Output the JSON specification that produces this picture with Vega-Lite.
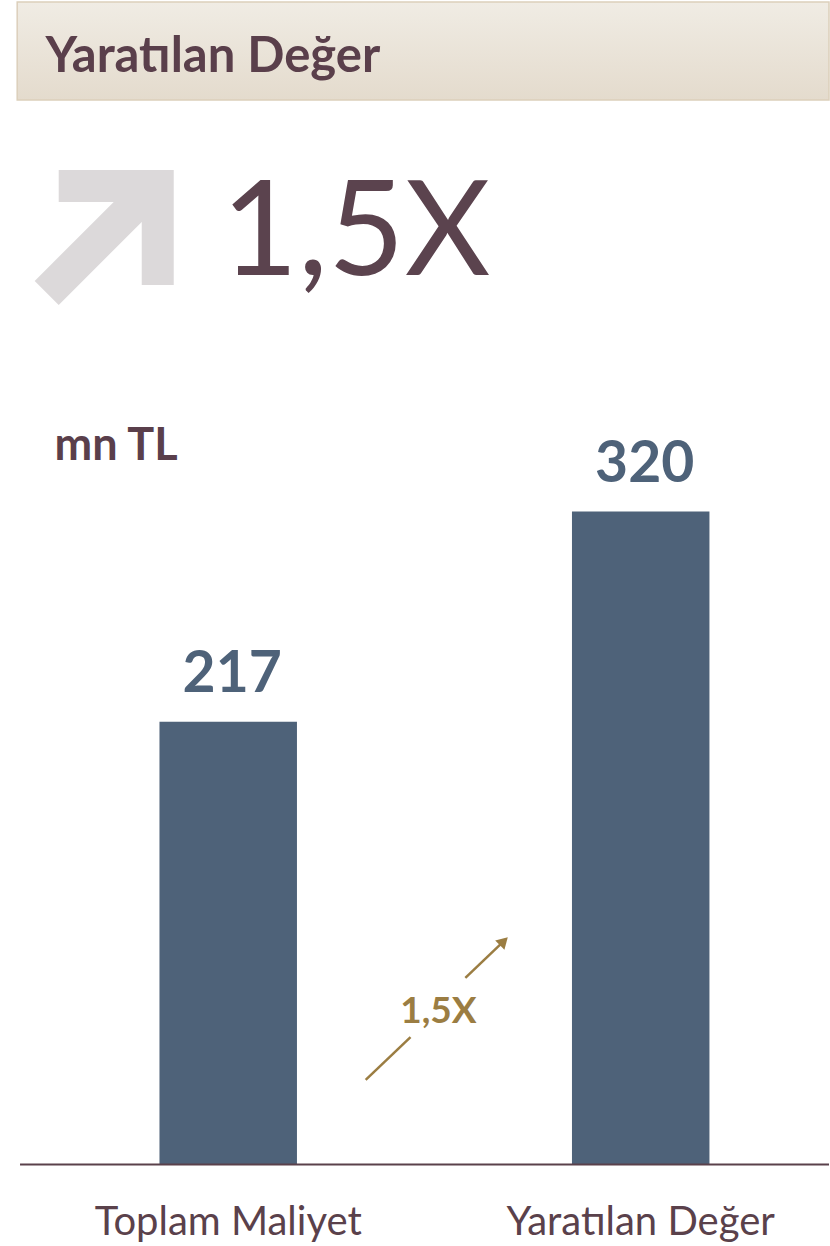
{
  "$schema": "https://vega.github.io/schema/vega-lite/v6.json",
  "width": 830,
  "height": 1246,
  "autosize": {"type": "fit", "contains": "padding"},
  "padding": {"left": 16, "top": 0, "right": 0, "bottom": 0},
  "background": "white",
  "config": {"view": {"stroke": null}, "font": "Lato"},
  "datasets": {
    "bars": [
      {"kalem": "Toplam Maliyet", "deger": 217},
      {"kalem": "Yaratılan Değer", "deger": 320}
    ]
  },
  "resolve": {"scale": {"x": "independent"}},
  "layer": [
    {
      "data": {"values": [{}]},
      "mark": {
        "type": "rect",
        "fill": {"gradient": "linear", "x1": 0, "y1": 0, "x2": 0, "y2": 1, "stops": [{"offset": 0, "color": "#f0ece4"}, {"offset": 1, "color": "#e4dbcd"}]},
        "stroke": "#dbcfbb",
        "strokeWidth": 1.5
      },
      "encoding": {
        "x": {"datum": -0.1, "type": "quantitative", "scale": {"domain": [0, 100], "nice": false, "zero": false}, "axis": null},
        "x2": {"datum": 100},
        "y": {"datum": 569.8, "type": "quantitative", "scale": {"domain": [-40, 570.8], "nice": false, "zero": false}, "axis": null},
        "y2": {"datum": 521.8}
      }
    },
    {
      "data": {"values": [{}]},
      "mark": {"type": "text", "text": "Yaratılan Değer", "fontWeight": "bold", "fontSize": 49, "color": "#5a3f4b", "align": "left", "baseline": "alphabetic"},
      "encoding": {
        "x": {"datum": 3.4, "type": "quantitative", "scale": {"domain": [0, 100], "nice": false, "zero": false}, "axis": null},
        "y": {"datum": 535.5, "type": "quantitative", "scale": {"domain": [-40, 570.8], "nice": false, "zero": false}, "axis": null}
      }
    },
    {
      "data": {"values": [{}]},
      "mark": {"type": "point", "shape": "M -0.65 -0.964 L 0.993 -0.964 L 0.993 0.679 L 0.536 0.679 L 0.536 -0.221 L -0.65 0.964 L -0.993 0.621 L 0.136 -0.507 L -0.65 -0.507 Z", "size": 19600, "filled": true, "color": "#dcd9da", "opacity": 1, "strokeWidth": 0},
      "encoding": {
        "x": {"datum": 10.63, "type": "quantitative", "scale": {"domain": [0, 100], "nice": false, "zero": false}, "axis": null},
        "y": {"datum": 454.4, "type": "quantitative", "scale": {"domain": [-40, 570.8], "nice": false, "zero": false}, "axis": null}
      }
    },
    {
      "data": {"values": [{}]},
      "mark": {"type": "text", "text": "1,5X", "fontSize": 132, "color": "#5b434e", "align": "left", "baseline": "alphabetic"},
      "encoding": {
        "x": {"datum": 25.1, "type": "quantitative", "scale": {"domain": [0, 100], "nice": false, "zero": false}, "axis": null},
        "y": {"datum": 436.0, "type": "quantitative", "scale": {"domain": [-40, 570.8], "nice": false, "zero": false}, "axis": null}
      }
    },
    {
      "data": {"values": [{}]},
      "mark": {"type": "text", "text": "mn TL", "fontWeight": "bold", "fontSize": 45, "color": "#5a3f4b", "align": "left", "baseline": "alphabetic"},
      "encoding": {
        "x": {"datum": 4.5, "type": "quantitative", "scale": {"domain": [0, 100], "nice": false, "zero": false}, "axis": null},
        "y": {"datum": 345.3, "type": "quantitative", "scale": {"domain": [-40, 570.8], "nice": false, "zero": false}, "axis": null}
      }
    },
    {
      "data": {"name": "bars"},
      "layer": [
        {
          "mark": {"type": "bar", "color": "#4e6279"},
          "encoding": {
            "x": {"field": "kalem", "type": "nominal", "sort": null, "scale": {"paddingInner": 0.6667, "paddingOuter": 0.3164, "align": 0.542}, "axis": null},
            "y": {"field": "deger", "type": "quantitative", "scale": {"domain": [-40, 570.8], "nice": false, "zero": false}, "axis": null},
            "y2": {"datum": 0}
          }
        },
        {
          "mark": {"type": "text", "fontWeight": "bold", "fontSize": 57, "color": "#4e6279", "baseline": "alphabetic", "dy": -30, "dx": 4},
          "encoding": {
            "x": {"field": "kalem", "type": "nominal", "sort": null, "scale": {"paddingInner": 0.6667, "paddingOuter": 0.3164, "align": 0.542}, "axis": null},
            "y": {"field": "deger", "type": "quantitative", "scale": {"domain": [-40, 570.8], "nice": false, "zero": false}, "axis": null},
            "text": {"field": "deger", "type": "quantitative"}
          }
        },
        {
          "mark": {"type": "text", "fontSize": 40, "color": "#5a414b", "baseline": "alphabetic"},
          "encoding": {
            "x": {"field": "kalem", "type": "nominal", "sort": null, "scale": {"paddingInner": 0.6667, "paddingOuter": 0.3164, "align": 0.542}, "axis": null},
            "y": {"datum": -34.6, "type": "quantitative", "scale": {"domain": [-40, 570.8], "nice": false, "zero": false}, "axis": null},
            "text": {"field": "kalem", "type": "nominal"}
          }
        }
      ]
    },
    {
      "data": {"values": [{}]},
      "mark": {"type": "rule", "color": "#5a414b", "strokeWidth": 2},
      "encoding": {
        "x": {"datum": 0.25, "type": "quantitative", "scale": {"domain": [0, 100], "nice": false, "zero": false}, "axis": null},
        "x2": {"datum": 100},
        "y": {"datum": 0, "type": "quantitative", "scale": {"domain": [-40, 570.8], "nice": false, "zero": false}, "axis": null}
      }
    },
    {
      "data": {"values": [{}]},
      "mark": {"type": "rule", "color": "#9b7d42", "strokeWidth": 2.5},
      "encoding": {
        "x": {"datum": 42.87, "type": "quantitative", "scale": {"domain": [0, 100], "nice": false, "zero": false}, "axis": null},
        "x2": {"datum": 48.4},
        "y": {"datum": 41.4, "type": "quantitative", "scale": {"domain": [-40, 570.8], "nice": false, "zero": false}, "axis": null},
        "y2": {"datum": 62.4}
      }
    },
    {
      "data": {"values": [{}]},
      "mark": {"type": "rule", "color": "#9b7d42", "strokeWidth": 2.5},
      "encoding": {
        "x": {"datum": 55.16, "type": "quantitative", "scale": {"domain": [0, 100], "nice": false, "zero": false}, "axis": null},
        "x2": {"datum": 60.0},
        "y": {"datum": 91.4, "type": "quantitative", "scale": {"domain": [-40, 570.8], "nice": false, "zero": false}, "axis": null},
        "y2": {"datum": 109.8}
      }
    },
    {
      "data": {"values": [{}]},
      "mark": {"type": "point", "shape": "triangle-up", "angle": 45, "size": 170, "filled": true, "color": "#9b7d42", "opacity": 1, "strokeWidth": 0},
      "encoding": {
        "x": {"datum": 59.9, "type": "quantitative", "scale": {"domain": [0, 100], "nice": false, "zero": false}, "axis": null},
        "y": {"datum": 109.4, "type": "quantitative", "scale": {"domain": [-40, 570.8], "nice": false, "zero": false}, "axis": null}
      }
    },
    {
      "data": {"values": [{}]},
      "mark": {"type": "text", "text": "1,5X", "fontWeight": "bold", "fontSize": 37, "color": "#9b7d42", "align": "center", "baseline": "middle"},
      "encoding": {
        "x": {"datum": 51.84, "type": "quantitative", "scale": {"domain": [0, 100], "nice": false, "zero": false}, "axis": null},
        "y": {"datum": 74.7, "type": "quantitative", "scale": {"domain": [-40, 570.8], "nice": false, "zero": false}, "axis": null}
      }
    }
  ]
}
